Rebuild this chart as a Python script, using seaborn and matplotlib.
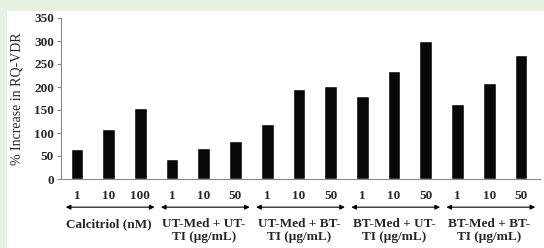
import matplotlib
matplotlib.use("Agg")
import matplotlib.pyplot as plt
import seaborn as sns
import pandas as pd
from matplotlib.patches import Rectangle

# Valores
dose_labels = ["1", "10", "100", "1", "10", "50", "1", "10", "50",
               "1", "10", "50", "1", "10", "50"]
increase = [65, 109, 154, 43, 67, 82, 120, 196, 203, 181, 234, 301, 163, 209, 270]
groups = ["Calcitriol (nM)", "UT-Med + UT-\nTI (\u00b5g/mL)", "UT-Med + BT-\nTI (\u00b5g/mL)",
          "BT-Med + UT-\nTI (\u00b5g/mL)", "BT-Med + BT-\nTI (\u00b5g/mL)"]
y_ticks = [0, 50, 100, 150, 200, 250, 300, 350]

sns.set_style("white")
plt.rcParams["font.family"] = ["Liberation Serif", "DejaVu Serif"]

df = pd.DataFrame({"pos": range(len(increase)), "valor": increase})

fig = plt.figure(figsize=(5.44, 2.48), dpi=100)
fig.patch.set_facecolor("#e6f1e4")
fig.patches.append(Rectangle((7 / 544, 0), 1, 1 - 11 / 248, transform=fig.transFigure,
                             facecolor="white", edgecolor="none", zorder=-5))

ax = fig.add_axes([61 / 544, 1 - 179 / 248, 479 / 544, 161 / 248])
ax.set_zorder(2)
ax.set_facecolor("white")
sns.barplot(data=df, x="pos", y="valor", color="#080808", width=0.4,
            saturation=1, ax=ax)

ax.set_ylim(0, 350)
ax.set_xlim(-0.5, 14.6)
ax.set_yticks(y_ticks)
ax.set_yticklabels([str(v) for v in y_ticks], fontsize=9.5, fontweight="bold")
ax.set_xticks(range(len(dose_labels)))
ax.set_xticklabels(dose_labels, fontsize=9.5, fontweight="bold")
ax.tick_params(axis="x", length=0, pad=8)
ax.tick_params(axis="y", length=3, width=0.8, color="#888888", direction="out", pad=2, left=True)
ax.set_xlabel("")
ax.set_ylabel("% Increase in RQ-VDR", fontsize=10, labelpad=8)

for s in ["top", "right"]:
    ax.spines[s].set_visible(False)
ax.spines["left"].set_color("#888888")
ax.spines["bottom"].set_color("#888888")

# Flechas y nombres de grupos
for i, g in enumerate(groups):
    x0 = i * 3 - 0.35
    x1 = i * 3 + 2.45
    ax.annotate("", xy=(x0, -0.175), xytext=(x1, -0.175),
                xycoords=("data", "axes fraction"), textcoords=("data", "axes fraction"),
                arrowprops=dict(arrowstyle="<|-|>", color="black", lw=0.8,
                                mutation_scale=7, shrinkA=0, shrinkB=0),
                annotation_clip=False)
    ax.text(i * 3 + 1, -0.245, g, transform=ax.get_xaxis_transform(), ha="center",
            va="top", fontsize=9.5, fontweight="bold", linespacing=1.1)

fig.savefig("out.png", dpi=100, facecolor=fig.get_facecolor())
